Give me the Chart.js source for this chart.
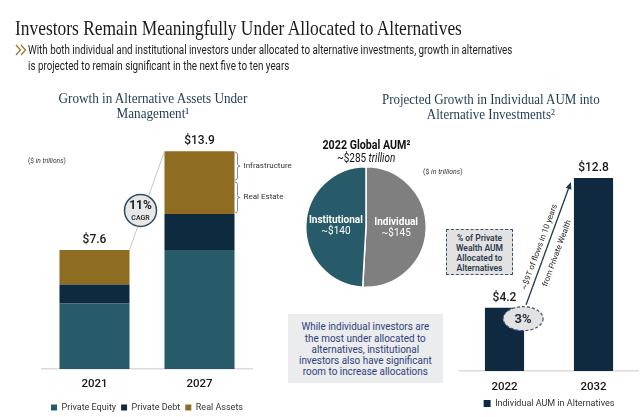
<!DOCTYPE html>
<html>
<head>
<meta charset="utf-8">
<script src="https://cdn.jsdelivr.net/npm/chart.js@4.4.1/dist/chart.umd.min.js"></script>
<style>
  html, body { margin:0; padding:0; background:#fff; }
  body { width:640px; height:417px; overflow:hidden; position:relative; }
  .t { position:absolute; white-space:nowrap; }
  .serif { font-family:"Liberation Serif","DejaVu Serif",serif; }
  .sans { font-family:Roboto,"Liberation Sans",sans-serif; }
  canvas { position:absolute; }
  #note { position:absolute; left:288px; top:314px; width:155px; height:69px; background:#ebecee; }
  #dashbox { position:absolute; left:446px; top:229px; width:67px; height:46px; box-sizing:border-box;
             border:1.5px dashed #3b5268; background:#e2e2e2; text-align:center;
             font:600 8.5px Roboto,sans-serif; line-height:10px; color:#2b3a4a; padding-top:2.5px; }
</style>
</head>
<body>
<canvas id="cA" width="640" height="422" style="left:0;top:0"></canvas>
<canvas id="cC" width="640" height="418" style="left:0;top:0"></canvas>
<canvas id="cB" width="122" height="122" style="left:305px;top:166px"></canvas>

<div class="t serif" data-x="15" data-w="447" style="top:16px;font-size:21px;line-height:24px;color:#1b1b1b;">Investors Remain Meaningfully Under Allocated to Alternatives</div>
<svg style="position:absolute;left:0;top:0" width="40" height="70">
  <polyline points="16,45 20.5,50 16,55" fill="none" stroke="#9c7a35" stroke-width="1.3"/>
  <polyline points="21,45 25.5,50 21,55" fill="none" stroke="#9c7a35" stroke-width="1.3"/>
</svg>
<div class="t sans" data-x="28" data-w="484" style="top:42px;font-size:12.5px;line-height:16px;color:#222;">With both individual and institutional investors under allocated to alternative investments, growth in alternatives<br>is projected to remain significant in the next five to ten years</div>

<div class="t serif" data-cx="152.5" data-w="189" style="top:90.5px;font-size:14.5px;line-height:15px;color:#1f3a52;text-align:center;">Growth in Alternative Assets Under<br>Management¹</div>
<div class="t serif" data-cx="491" data-w="218" style="top:91.5px;font-size:14.5px;line-height:15px;color:#1f3a52;text-align:center;">Projected Growth in Individual AUM into<br>Alternative Investments²</div>

<div class="t sans" data-x="28" data-w="38" style="top:156px;font-size:7.5px;line-height:10px;color:#333;">($ <i>in trillions</i>)</div>
<div class="t sans" data-x="423" data-w="40" style="top:167px;font-size:7.5px;line-height:10px;color:#333;">($ <i>in trillions</i>)</div>

<div class="t sans" data-cx="366" data-w="88" style="top:136.5px;font-size:12.5px;line-height:15px;font-weight:700;color:#111;">2022 Global AUM²</div>
<div class="t sans" id="aumTotal" data-cx="366" data-w="58" style="top:150.5px;font-size:12px;line-height:15px;color:#111;"></div>

<div id="note"></div>
<div class="t sans" data-cx="365.5" data-w="133" style="top:321.3px;font-size:10.5px;line-height:11.3px;color:#2f3f7a;text-align:center;">While individual investors are<br>the most under allocated to<br>alternatives, institutional<br>investors also have significant<br>room to increase allocations</div>

<div id="dashbox">% of Private<br>Wealth AUM<br>Allocated to<br>Alternatives</div>

<script>
// ---------- data ----------
const years = ['2021', '2027'];
const privateEquity = [4.2, 7.6];
const privateDebt = [1.2, 2.3];
const realAssets = [2.2, 4.0];
const totalAUM = [7.6, 13.9];
const realAssetsSplitLabels = ['Infrastructure', 'Real Estate'];
const realAssetsSplit2027 = [1.9, 2.1];
const cagrLabel = ['11%', 'CAGR'];

const aumSegments = ['Individual', 'Institutional'];
const globalAUM = [145, 140];
const globalAUMTotal = 285;

const projYears = ['2022', '2032'];
const individualAlts = [4.2, 12.8];
const privateWealthShare = '3%';
const flowsNote = ['~$9T of flows in 10 years', 'from Private Wealth'];

document.getElementById('aumTotal').innerHTML = '~$' + globalAUMTotal + ' <i>trillion</i>';

const FONT = 'Roboto, "Liberation Sans", sans-serif';

// ---------- plugins ----------
function bracket(ctx, x, y1, y2) {
  const ym = (y1 + y2) / 2;
  ctx.beginPath();
  ctx.moveTo(x - 2.5, y1);
  ctx.quadraticCurveTo(x, y1, x, y1 + 2.5);
  ctx.lineTo(x, ym - 2);
  ctx.quadraticCurveTo(x, ym, x + 2.5, ym);
  ctx.quadraticCurveTo(x, ym, x, ym + 2);
  ctx.lineTo(x, y2 - 2.5);
  ctx.quadraticCurveTo(x, y2, x - 2.5, y2);
  ctx.stroke();
}

const annotA = {
  id: 'annotA',
  afterDatasetsDraw(chart) {
    const ctx = chart.ctx, y = chart.scales.y;
    const tops = chart.getDatasetMeta(2).data;
    ctx.save();
    ctx.font = '500 12px ' + FONT;
    ctx.fillStyle = '#1a1a1a';
    ctx.textAlign = 'center';
    ctx.textBaseline = 'middle';
    totalAUM.forEach((t, i) => ctx.fillText('$' + t.toFixed(1), tops[i].x, y.getPixelForValue(t) - 10));
    const x0 = tops[0].x + tops[0].width / 2, y0 = y.getPixelForValue(totalAUM[0]);
    const x1 = tops[1].x - tops[1].width / 2, y1 = y.getPixelForValue(totalAUM[1]);
    ctx.strokeStyle = '#c6c6c6'; ctx.lineWidth = 1;
    ctx.beginPath(); ctx.moveTo(x0, y0); ctx.lineTo(x1, y1); ctx.stroke();
    const cx = x0 + (x1 - x0) * 0.4 - 3, cy = y0 + (y1 - y0) * 0.4;
    ctx.beginPath(); ctx.arc(cx, cy, 16, 0, Math.PI * 2);
    ctx.fillStyle = '#e6e7e8'; ctx.fill();
    ctx.strokeStyle = '#2f4d63'; ctx.lineWidth = 1.5; ctx.stroke();
    ctx.fillStyle = '#1a1a1a';
    ctx.font = '700 12px ' + FONT; ctx.fillText(cagrLabel[0], cx, cy - 4);
    ctx.font = '500 7px ' + FONT; ctx.fillText(cagrLabel[1], cx, cy + 8);
    const bx = tops[1].x + tops[1].width / 2 + 3;
    const yTop = y.getPixelForValue(totalAUM[1]);
    const yMid = y.getPixelForValue(totalAUM[1] - realAssetsSplit2027[0]);
    const yBot = y.getPixelForValue(totalAUM[1] - realAssetsSplit2027[0] - realAssetsSplit2027[1]);
    ctx.strokeStyle = '#7d8d9c'; ctx.lineWidth = 1;
    bracket(ctx, bx, yTop + 1, yMid - 1);
    bracket(ctx, bx, yMid + 1, yBot - 1);
    ctx.fillStyle = '#333'; ctx.textAlign = 'left';
    ctx.font = '8px ' + FONT;
    ctx.fillText(realAssetsSplitLabels[0], bx + 6, (yTop + yMid) / 2);
    ctx.fillText(realAssetsSplitLabels[1], bx + 6, (yMid + yBot) / 2);
    ctx.restore();
  }
};

const pieLabels = {
  id: 'pieLabels',
  afterDatasetsDraw(chart) {
    const ctx = chart.ctx;
    ctx.save();
    ctx.fillStyle = '#fff'; ctx.textAlign = 'center'; ctx.textBaseline = 'middle';
    chart.getDatasetMeta(0).data.forEach((arc, i) => {
      const p = arc.tooltipPosition();
      ctx.font = '700 10px ' + FONT;
      ctx.fillText(aumSegments[i], p.x, p.y - 5.5);
      ctx.font = '10px ' + FONT;
      ctx.fillText('~$' + globalAUM[i], p.x, p.y + 5.5);
    });
    ctx.restore();
  }
};

const annotC = {
  id: 'annotC',
  afterDatasetsDraw(chart) {
    const ctx = chart.ctx;
    const bars = chart.getDatasetMeta(0).data;
    ctx.save();
    ctx.font = '500 12px ' + FONT;
    ctx.fillStyle = '#1a1a1a'; ctx.textAlign = 'center'; ctx.textBaseline = 'middle';
    individualAlts.forEach((v, i) => ctx.fillText('$' + v.toFixed(1), bars[i].x, bars[i].y - 10));
    const ox = bars[0].x + bars[0].width / 2 - 1, oy = bars[0].y + 11;
    const sx = ox + 3, sy = oy - 14;
    const ex = bars[1].x - bars[1].width / 2 - 3, ey = bars[1].y + 4;
    const ang = Math.atan2(ey - sy, ex - sx);
    ctx.strokeStyle = '#1e3a52'; ctx.fillStyle = '#1e3a52'; ctx.lineWidth = 1.3;
    ctx.beginPath(); ctx.moveTo(sx, sy); ctx.lineTo(ex - Math.cos(ang) * 4, ey - Math.sin(ang) * 4); ctx.stroke();
    ctx.beginPath();
    ctx.moveTo(ex, ey);
    ctx.lineTo(ex - 7 * Math.cos(ang) + 3 * Math.sin(ang), ey - 7 * Math.sin(ang) - 3 * Math.cos(ang));
    ctx.lineTo(ex - 7 * Math.cos(ang) - 3 * Math.sin(ang), ey - 7 * Math.sin(ang) + 3 * Math.cos(ang));
    ctx.closePath(); ctx.fill();
    ctx.save();
    ctx.translate((sx + ex) / 2, (sy + ey) / 2);
    ctx.rotate(ang);
    ctx.fillStyle = '#2a2a2a';
    ctx.font = '8px ' + FONT;
    ctx.fillText(flowsNote[0], -6.5, -7);
    ctx.fillText(flowsNote[1], -6.5, 11.5);
    ctx.restore();
    ctx.beginPath(); ctx.ellipse(ox, oy, 20, 12, 0, 0, Math.PI * 2);
    ctx.fillStyle = '#e2e2e2'; ctx.fill();
    ctx.setLineDash([3, 2]); ctx.strokeStyle = '#3b5268'; ctx.lineWidth = 1.2; ctx.stroke();
    ctx.setLineDash([]);
    ctx.fillStyle = '#1d2d3d'; ctx.font = '700 13px ' + FONT;
    ctx.fillText(privateWealthShare, ox, oy + 1);
    ctx.restore();
  }
};

// ---------- charts ----------
const common = { responsive: false, animation: false, devicePixelRatio: 1 };

new Chart(document.getElementById('cA'), {
  type: 'bar',
  data: {
    labels: years,
    datasets: [
      { label: 'Private Equity', data: privateEquity, backgroundColor: '#275b69' },
      { label: 'Private Debt', data: privateDebt, backgroundColor: '#0e2a3f' },
      { label: 'Real Assets', data: realAssets, backgroundColor: '#8e6c22' }
    ]
  },
  options: Object.assign({}, common, {
    layout: { padding: { left: 42, right: 388, top: 134, bottom: 0 } },
    datasets: { bar: { categoryPercentage: 1, barPercentage: 0.667, borderWidth: 0 } },
    scales: {
      x: { stacked: true, grid: { display: false, drawTicks: false },
           border: { color: '#dcdcdc', width: 1.5 },
           ticks: { padding: 8, color: '#1a1a1a', font: { family: FONT, size: 11.5, weight: '500' } },
           afterFit(s) { s.height = 29; } },
      y: { stacked: true, display: false, min: 0, max: 15 }
    },
    plugins: {
      legend: { position: 'bottom', labels: { boxWidth: 6, boxHeight: 6, padding: 5, color: '#333', font: { family: FONT, size: 9 } } },
      tooltip: { enabled: false }
    }
  }),
  plugins: [annotA]
});

new Chart(document.getElementById('cB'), {
  type: 'pie',
  data: {
    labels: aumSegments,
    datasets: [{ data: globalAUM, backgroundColor: ['#7f7f7f', '#275b69'], borderColor: '#ffffff', borderWidth: 1.5 }]
  },
  options: Object.assign({}, common, {
    layout: { padding: 0 },
    plugins: { legend: { display: false }, tooltip: { enabled: false } }
  }),
  plugins: [pieLabels]
});

new Chart(document.getElementById('cC'), {
  type: 'bar',
  data: {
    labels: projYears,
    datasets: [{ label: 'Individual AUM in Alternatives', data: individualAlts, backgroundColor: '#0f2a40' }]
  },
  options: Object.assign({}, common, {
    layout: { padding: { left: 460, right: 2, top: 160, bottom: 0 } },
    datasets: { bar: { categoryPercentage: 1, barPercentage: 0.44, borderWidth: 0 } },
    scales: {
      x: { grid: { display: false, drawTicks: false },
           border: { color: '#dcdcdc', width: 1.5 },
           ticks: { padding: 9, color: '#1a1a1a', font: { family: FONT, size: 11.5, weight: '500' } },
           afterFit(s) { s.height = 20; } },
      y: { display: false, min: 0, max: 14 }
    },
    plugins: {
      legend: { position: 'bottom', labels: { boxWidth: 7, boxHeight: 7, padding: 8, color: '#333', font: { family: FONT, size: 9 } } },
      tooltip: { enabled: false }
    }
  }),
  plugins: [annotC]
});

// ---------- text width fitting ----------
function fitText() {
  document.querySelectorAll('[data-w]').forEach(el => {
    el.style.transform = 'none';
    const w = el.offsetWidth;
    const s = parseFloat(el.dataset.w) / w;
    if (el.dataset.cx !== undefined) {
      el.style.left = (parseFloat(el.dataset.cx) - w / 2) + 'px';
      el.style.transformOrigin = '50% 0';
    } else {
      el.style.left = el.dataset.x + 'px';
      el.style.transformOrigin = '0 0';
    }
    el.style.transform = 'scaleX(' + s.toFixed(4) + ')';
  });
}
fitText();
if (document.fonts) document.fonts.ready.then(fitText);
</script>
</body>
</html>
